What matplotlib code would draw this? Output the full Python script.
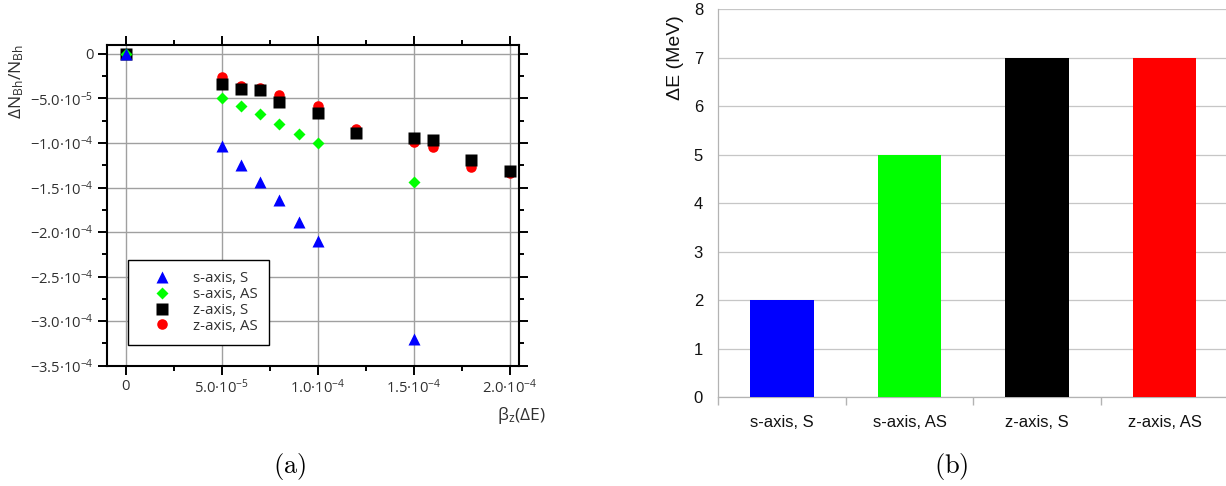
import math
import matplotlib
matplotlib.use("Agg")
import matplotlib.pyplot as plt
from matplotlib.ticker import MultipleLocator, FuncFormatter, FixedLocator, NullFormatter

# ---------------- data ----------------
x_s = [0, 5e-5, 6e-5, 7e-5, 8e-5, 9e-5, 1e-4, 1.5e-4]
s_S = [0, -1.03e-4, -1.25e-4, -1.44e-4, -1.64e-4, -1.89e-4, -2.10e-4, -3.20e-4]
s_AS = [0, -4.95e-5, -5.9e-5, -6.7e-5, -7.9e-5, -9.0e-5, -1.0e-4, -1.44e-4]
x_z = [0, 5e-5, 6e-5, 7e-5, 8e-5, 1e-4, 1.2e-4, 1.5e-4, 1.6e-4, 1.8e-4, 2e-4]
z_S = [0, -3.36e-5, -3.96e-5, -4.04e-5, -5.35e-5, -6.67e-5, -8.87e-5, -9.45e-5, -9.66e-5, -1.187e-4, -1.315e-4]
z_AS = [0, -2.6e-5, -3.6e-5, -3.8e-5, -4.65e-5, -5.9e-5, -8.45e-5, -9.9e-5, -1.045e-4, -1.27e-4, -1.34e-4]
series_labels = ["s-axis, S", "s-axis, AS", "z-axis, S", "z-axis, AS"]

bar_categories = ["s-axis, S", "s-axis, AS", "z-axis, S", "z-axis, AS"]
bar_values = [2, 5, 7, 7]
bar_colors = ["#0000ff", "#00ff00", "#000000", "#ff0000"]

# ---------------- style ----------------
plt.rcParams['mathtext.fontset'] = 'custom'
plt.rcParams['mathtext.rm'] = 'Open Sans'
plt.rcParams['mathtext.it'] = 'Open Sans:italic'
plt.rcParams['mathtext.bf'] = 'Open Sans:bold'
plt.rcParams['font.family'] = ['Open Sans', 'DejaVu Sans']

W, H = 1226, 486
fig = plt.figure(figsize=(W / 100, H / 100), dpi=100)

def fx(px):
    return px / W

def fy(py):
    return 1 - py / H

txt_col = '#303030'

# ---------------- left panel ----------------
ax = fig.add_axes([fx(106.7), fy(365.7), fx(519.3 - 106.7), (365.7 - 45) / H])
ax.set_xlim(-1.0e-5, 2.05e-4)
ax.set_ylim(-3.5e-4, 1.0e-5)

h_zas, = ax.plot(x_z, z_AS, 'o', color='#ff0000', ms=7.6, mec='none', zorder=3, label=series_labels[3])
h_zs, = ax.plot(x_z, z_S, 's', color='#000000', ms=8.2, mec='none', zorder=4, label=series_labels[2])
h_sas, = ax.plot(x_s, s_AS, 'D', color='#00ff00', ms=6.0, mec='none', zorder=5, label=series_labels[1])
h_ss, = ax.plot(x_s, s_S, '^', color='#0000ff', ms=8.6, mec='none', zorder=6, label=series_labels[0])

ax.xaxis.set_major_locator(MultipleLocator(5e-5))
ax.xaxis.set_minor_locator(MultipleLocator(2.5e-5))
ax.yaxis.set_major_locator(MultipleLocator(5e-5))
ax.yaxis.set_minor_locator(MultipleLocator(2.5e-5))

def sci_fmt(v, pos):
    if abs(v) < 1e-12:
        return '0'
    e = int(math.floor(math.log10(abs(v)) + 1e-9))
    m = v / 10 ** e
    return r'$\mathrm{%s%.1f·10^{%d}}$' % ('-' if m < 0 else '', abs(m), e)

ax.xaxis.set_major_formatter(FuncFormatter(sci_fmt))
ax.yaxis.set_major_formatter(FuncFormatter(sci_fmt))
ax.tick_params(which='both', direction='out', top=True, right=True, width=1.4,
               colors='black', labelcolor=txt_col, labelsize=10.6)
ax.tick_params(which='major', length=6.5, pad=3)
ax.tick_params(which='minor', length=3.8)
for sp in ax.spines.values():
    sp.set_linewidth(1.5)
ax.grid(True, which='major', color='#a0a0a0', lw=1.0)
ax.set_axisbelow(True)

leg = ax.legend(handles=[h_ss, h_sas, h_zs, h_zas], loc='upper left',
                bbox_to_anchor=(fx(128.3), fy(260)), bbox_transform=fig.transFigure,
                borderaxespad=0, fancybox=False, framealpha=1, edgecolor='black',
                fontsize=10.8, borderpad=0.75, handlelength=3.0, handletextpad=0.55,
                labelspacing=0.05, numpoints=1)
leg.get_frame().set_linewidth(1.0)
for t in leg.get_texts():
    t.set_color(txt_col)

fig.text(fx(17), fy(82), r'$\mathrm{ΔN_{Bh}/N_{Bh}}$', rotation=90, ha='center', va='center',
         fontsize=12.5, color=txt_col)
fig.text(fx(545), fy(415), r'$\mathrm{β_{z}(ΔE)}$', ha='right', va='center',
         fontsize=12.5, color=txt_col)

# ---------------- right panel ----------------
bx = fig.add_axes([fx(718.3), fy(397), 4 * 127.5 / W, (397 - 9.3) / H])
pos = list(range(len(bar_categories)))
bx.bar(pos, bar_values, width=0.5, color=bar_colors, edgecolor='none', zorder=3)
bx.set_xlim(-0.5, len(bar_categories) - 0.5)
bx.set_ylim(0, 8)
bx.yaxis.set_major_locator(MultipleLocator(1))
bx.set_xticks(pos)
bx.set_xticklabels(bar_categories)
bx.xaxis.set_minor_locator(FixedLocator([p - 0.5 for p in range(len(bar_categories) + 1)]))
bx.xaxis.set_minor_formatter(NullFormatter())
bx.tick_params(axis='x', which='major', length=0, pad=13, labelsize=12)
bx.tick_params(axis='x', which='minor', length=6, color='#b3b3b3', width=1)
bx.tick_params(axis='y', length=0, pad=11, labelsize=12)
for lab in bx.get_xticklabels() + bx.get_yticklabels():
    lab.set_fontfamily('Liberation Sans')
    lab.set_color('#111111')
bx.grid(True, axis='y', color='#c6c6c6', lw=0.9, zorder=0)
bx.set_axisbelow(True)
for k in ['top', 'right']:
    bx.spines[k].set_visible(False)
for k in ['left', 'bottom']:
    bx.spines[k].set_color('#b3b3b3')
    bx.spines[k].set_linewidth(0.9)

fig.text(fx(676), fy(58), 'ΔE (MeV)', rotation=90, ha='center', va='center',
         fontsize=14, family='Liberation Sans', color='#111111')

# ---------------- captions ----------------
fig.text(fx(290), fy(466), r'$\mathrm{(a)}$', ha='center', va='center', fontsize=19,
         math_fontfamily='cm')
fig.text(fx(951), fy(466), r'$\mathrm{(b)}$', ha='center', va='center', fontsize=19,
         math_fontfamily='cm')

fig.savefig('out.png', dpi=100)
